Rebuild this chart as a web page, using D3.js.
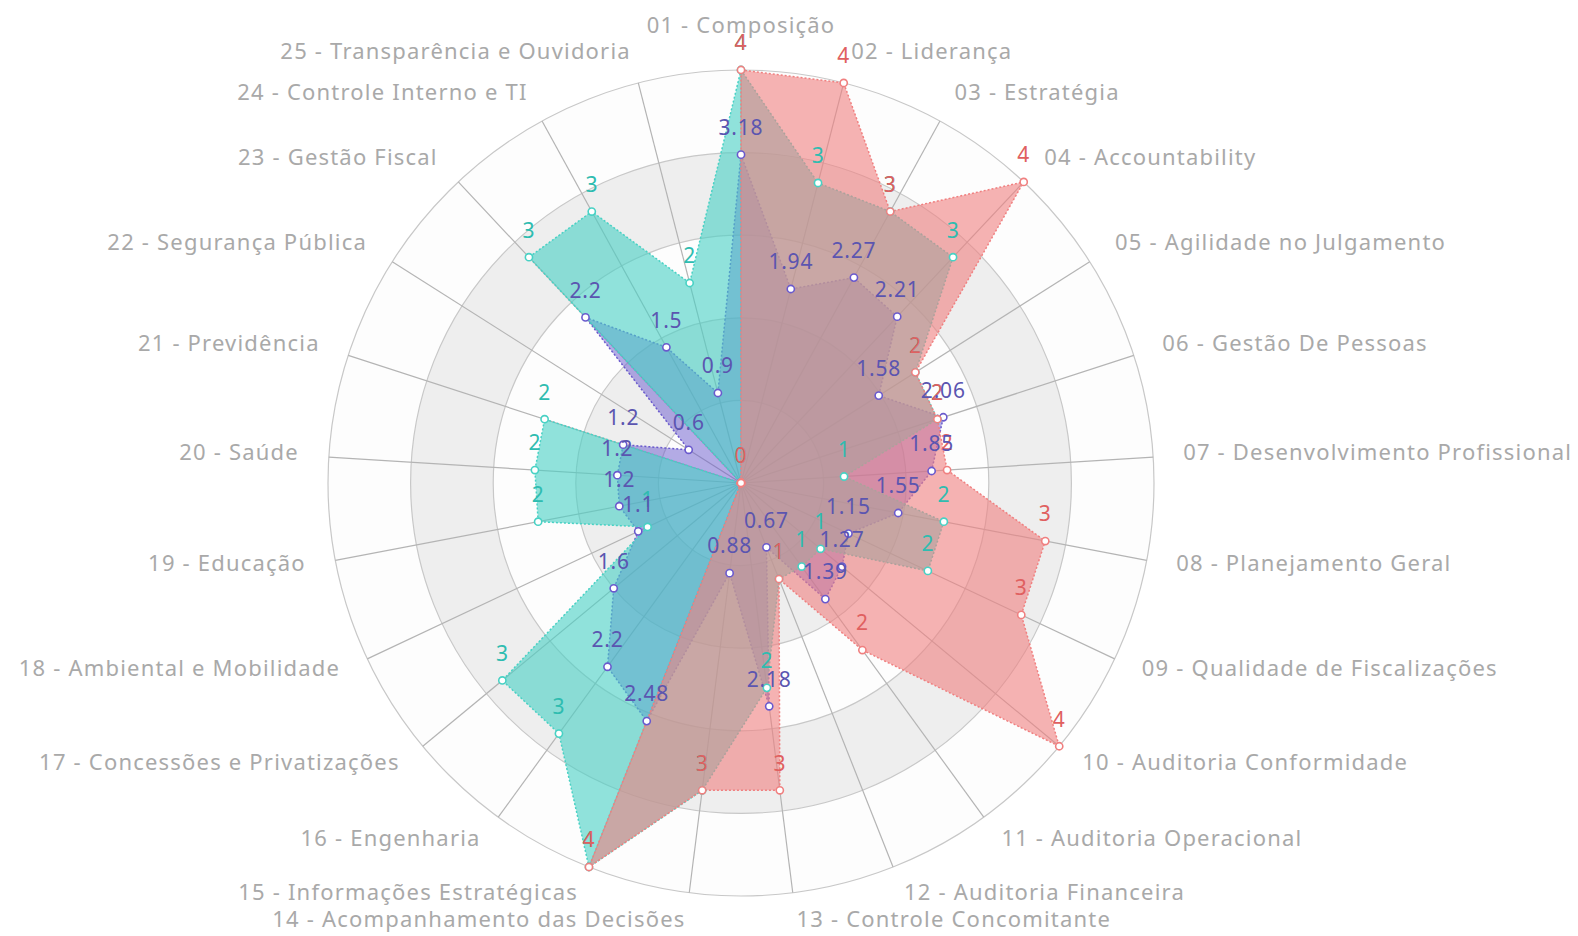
<!DOCTYPE html>
<html>
<head>
<meta charset="utf-8">
<script src="https://cdnjs.cloudflare.com/ajax/libs/d3/7.8.5/d3.min.js"></script>
<style>
	body { margin: 0; background: #fff; }
	svg { display: block; font-family: 'Noto Sans', 'DejaVu Sans', sans-serif; }
	.vis__name { fill: #a9a9a9; font-size: 22px; letter-spacing: 1.2px; }
	.vis__value { font-size: 21px; letter-spacing: 0.8px; }
</style>
</head>
<body>
<svg id="chart" width="1578" height="936"></svg>
<script>
var indicators = [
	'01 - Composição', '02 - Liderança', '03 - Estratégia', '04 - Accountability',
	'05 - Agilidade no Julgamento', '06 - Gestão De Pessoas', '07 - Desenvolvimento Profissional',
	'08 - Planejamento Geral', '09 - Qualidade de Fiscalizações', '10 - Auditoria Conformidade',
	'11 - Auditoria Operacional', '12 - Auditoria Financeira', '13 - Controle Concomitante',
	'14 - Acompanhamento das Decisões', '15 - Informações Estratégicas', '16 - Engenharia',
	'17 - Concessões e Privatizações', '18 - Ambiental e Mobilidade', '19 - Educação',
	'20 - Saúde', '21 - Previdência', '22 - Segurança Pública', '23 - Gestão Fiscal',
	'24 - Controle Interno e TI', '25 - Transparência e Ouvidoria'
];
var maxValue = 4;
var splitNumber = 5;

var purpleValues = [3.18, 1.94, 2.27, 2.21, 1.58, 2.06, 1.85, 1.55, 1.15, 1.27, 1.39, 0.67, 2.18, 0.88, 2.48, 2.2, 1.6, 1.1, 1.2, 1.2, 1.2, 0.6, 2.2, 1.5, 0.9];
var tealValues = [4, 3, 3, 3, 2, 2, 1, 2, 2, 1, 1, 1, 2, 3, 4, 3, 3, 1, 2, 2, 2, 0, 3, 3, 2];
var redValues = [4, 4, 3, 4, 2, 2, 2, 3, 3, 4, 2, 1, 3, 3, 4, 0, 0, 0, 0, 0, 0, 0, 0, 0, 0];

// drawing order: purple under, red on top
var series = [
	{ name: 'purple', values: purpleValues, color: '#6a5acd', label: '#5b55b0', opacity: 0.5 },
	{ name: 'teal', values: tealValues, color: '#48d1c4', label: '#2fbcb0', opacity: 0.6 },
	{ name: 'red', values: redValues, color: '#f08080', label: '#e06060', opacity: 0.6 }
];
var labelOrder = [1, 2, 0];

var cx = 741, cy = 483, radius = 413, nameGap = 30;
var n = indicators.length;

var svg = d3.select('#chart');
var root = svg.append('g').attr('transform', 'translate(' + cx + ',' + cy + ')');

var rScale = d3.scaleLinear().domain([0, maxValue]).range([0, radius]);
var aScale = d3.scaleLinear().domain([0, n]).range([0, 2 * Math.PI]);

function px(v, i) { return rScale(v) * Math.sin(aScale(i)); }
function py(v, i) { return -rScale(v) * Math.cos(aScale(i)); }

// split areas and split lines
var rings = d3.range(splitNumber).map(function(k) { return maxValue * (k + 1) / splitNumber; });
var arc = d3.arc();
root.selectAll('.vis__split-area').data(rings).enter().append('path')
	.classed('vis__split-area', true)
	.attr('d', function(d, k) {
		return arc({ innerRadius: k === 0 ? 0 : rScale(rings[k - 1]), outerRadius: rScale(d), startAngle: 0, endAngle: 2 * Math.PI });
	})
	.attr('fill', function(d, k) { return k % 2 ? 'rgba(200,200,200,0.3)' : 'rgba(250,250,250,0.3)'; });

root.selectAll('.vis__split-line').data(rings).enter().append('circle')
	.classed('vis__split-line', true)
	.attr('r', function(d) { return rScale(d); })
	.attr('fill', 'none')
	.attr('stroke', '#c8c8c8')
	.attr('stroke-width', 1.2);

root.selectAll('.vis__axis-line').data(indicators).enter().append('line')
	.classed('vis__axis-line', true)
	.attr('x1', 0).attr('y1', 0)
	.attr('x2', function(d, i) { return px(maxValue, i); })
	.attr('y2', function(d, i) { return py(maxValue, i); })
	.attr('stroke', '#b4b4b4')
	.attr('stroke-width', 1.2);

// indicator names
root.selectAll('.vis__name').data(indicators).enter().append('text')
	.classed('vis__name', true)
	.attr('x', function(d, i) { return (radius + nameGap) * Math.sin(aScale(i)); })
	.attr('y', function(d, i) { return -(radius + nameGap) * Math.cos(aScale(i)); })
	.attr('text-anchor', function(d, i) {
		var s = Math.sin(aScale(i));
		return Math.abs(s) < 0.01 ? 'middle' : (s > 0 ? 'start' : 'end');
	})
	.attr('dy', function(d, i) { return i === 0 ? '-0.3em' : '0.22em'; })
	.text(function(d) { return d; });

// areas
var radarLine = d3.lineRadial()
	.angle(function(d, i) { return aScale(i); })
	.radius(function(d) { return rScale(d); })
	.curve(d3.curveLinearClosed);

series.forEach(function(s) {
	root.append('path')
		.attr('class', 'vis__area vis__area--' + s.name)
		.attr('d', radarLine(s.values))
		.attr('fill', s.color)
		.attr('fill-opacity', s.opacity)
		.attr('stroke', s.color)
		.attr('stroke-width', 1.5)
		.attr('stroke-dasharray', '2,2');
});

series.forEach(function(s) {
	root.selectAll('.vis__point--' + s.name).data(s.values).enter().append('circle')
		.attr('class', 'vis__point vis__point--' + s.name)
		.attr('cx', function(d, i) { return px(d, i); })
		.attr('cy', function(d, i) { return py(d, i); })
		.attr('r', 3.6)
		.attr('fill', '#fff')
		.attr('stroke', s.color)
		.attr('stroke-width', 1.6);
});

labelOrder.forEach(function(k) {
	var s = series[k];
	var vals = s.values.map(function(v, i) { return { v: v, i: i }; });
	// points at the centre share one spot, label it once
	var seen = false;
	vals = vals.filter(function(d) {
		if (d.v !== 0) return true;
		if (seen) return false;
		seen = true;
		return true;
	});
	root.selectAll('.vis__value--' + s.name).data(vals).enter().append('text')
		.attr('class', 'vis__value vis__value--' + s.name)
		.attr('x', function(d) { return px(d.v, d.i); })
		.attr('y', function(d) { return py(d.v, d.i) - 27; })
		.attr('text-anchor', 'middle')
		.attr('dy', '0.35em')
		.attr('fill', s.label)
		.text(function(d) { return d.v; });
});
</script>
</body>
</html>
